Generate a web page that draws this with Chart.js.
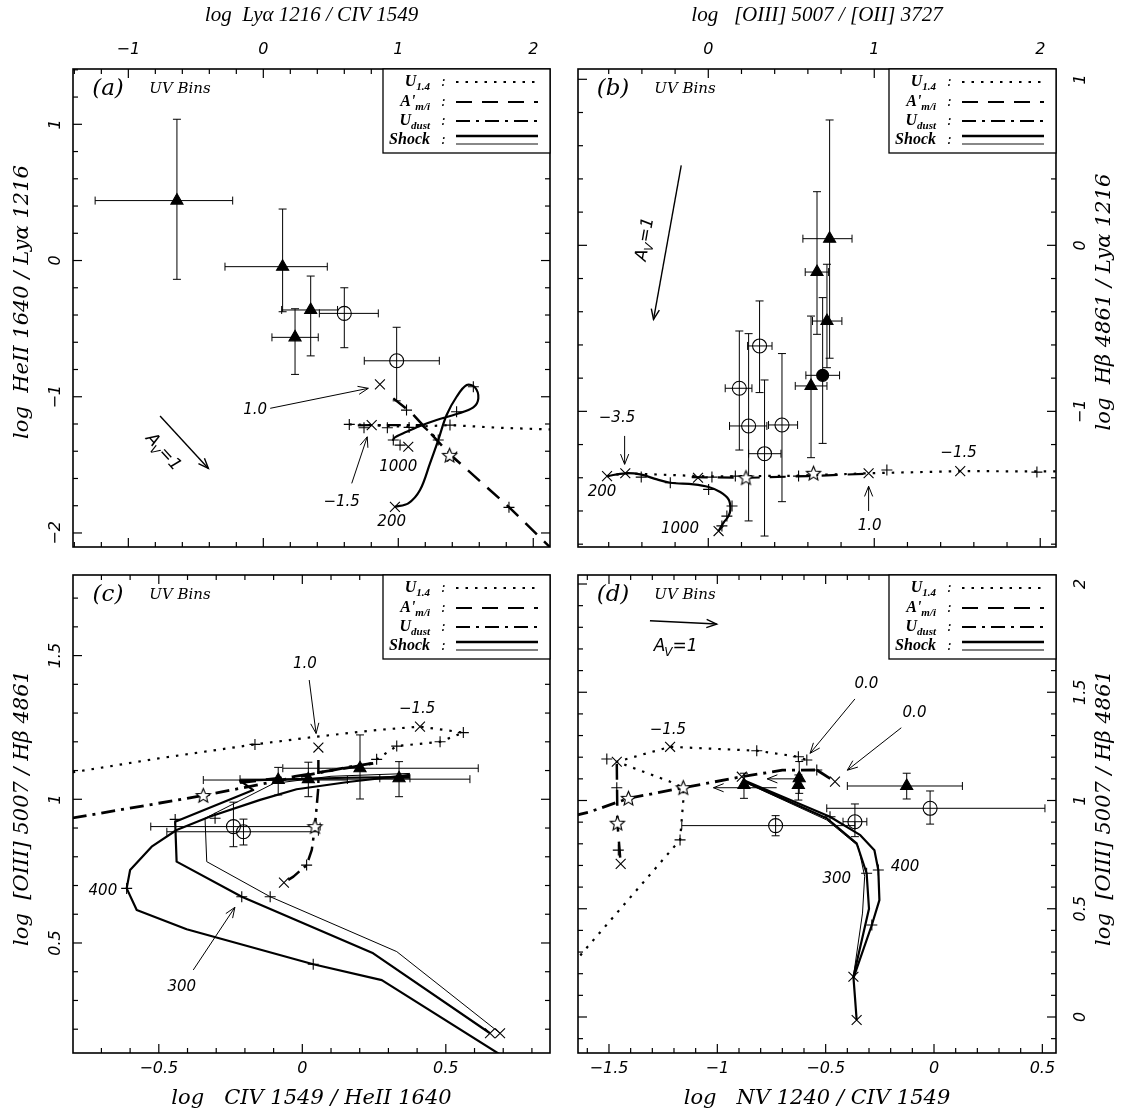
<!DOCTYPE html>
<html><head><meta charset="utf-8">
<script src="https://cdn.jsdelivr.net/npm/chart.js@4.4.0/dist/chart.umd.min.js"></script>
<style>
html,body{margin:0;padding:0;background:#fff;}
#wrap{position:relative;width:1122px;height:1116px;background:#fff;}
canvas{position:absolute;}
</style></head><body>
<div id="wrap">
<canvas id="ca" width="561" height="558" style="left:0;top:0"></canvas>
<canvas id="cb" width="561" height="558" style="left:561px;top:0"></canvas>
<canvas id="cc" width="561" height="558" style="left:0;top:558px"></canvas>
<canvas id="cd" width="561" height="558" style="left:561px;top:558px"></canvas>
</div>
<script>
// ================= DATA =================
// observations: [x, y, xLow, xHigh, yLow, yHigh]
// ---- panel (a): x = log Lya/CIV, y = log HeII/Lya
const aTicksX = [-1, 0, 1, 2];
const aTicksY = [-2, -1, 0, 1];
const aTriangles = [
  [-0.64, 0.44, -1.246, -0.227, -0.138, 1.037],
  [0.143, -0.045, -0.284, 0.474, -0.376, 0.378],
  [0.351, -0.363, 0.136, 0.55, -0.70, -0.114],
  [0.235, -0.564, 0.064, 0.407, -0.836, -0.354]
];
const aCircles = [
  [0.60, -0.388, 0.415, 0.852, -0.64, -0.20],
  [0.988, -0.736, 0.748, 1.304, -1.03, -0.49]
];
const aU14 = [[0.637,-1.203],[0.80,-1.208],[1.08,-1.222],[1.383,-1.208],[1.75,-1.228],[2.13,-1.24]];
const aAmi = [[0.963,-1.012],[1.10,-1.12],[1.38,-1.42],[1.82,-1.81],[2.13,-2.11]];
const aUdust = [[0.70,-1.21],[0.80,-1.208],[1.175,-1.208],[1.285,-1.306]];
const aShock = [[0.975,-1.808],[1.074,-1.783],[1.161,-1.685],[1.235,-1.489],[1.296,-1.318],[1.358,-1.134],
  [1.432,-1.0],[1.507,-0.914],[1.568,-0.931],[1.593,-1.012],[1.556,-1.078],[1.432,-1.127],[1.284,-1.171],
  [1.161,-1.215],[1.062,-1.257],[0.975,-1.298],[0.958,-1.323]];
const aPlus = [[0.637,-1.203],[0.746,-1.228],[0.919,-1.228],[1.08,-1.225],[1.383,-1.208],[1.061,-1.098],
  [1.82,-1.812],[1.556,-0.927],[1.432,-1.11],[1.296,-1.318],[0.963,-1.318],[1.013,-1.355]];
const aCross = [[0.803,-1.208],[0.864,-0.909],[1.074,-1.367],[0.975,-1.808],[1.40,-1.44]];
const aStars = [[1.38,-1.43]];

// ---- panel (b): x = log [OIII]/[OII], y = log Hb/Lya
const bTicksX = [0, 1, 2];
const bTicksY = [-1, 0, 1];
const bTriangles = [
  [0.731, 0.040, 0.57, 0.866, -0.68, 0.755],
  [0.655, -0.161, 0.584, 0.725, -0.536, 0.323],
  [0.715, -0.456, 0.628, 0.805, -0.737, -0.114],
  [0.619, -0.847, 0.524, 0.715, -1.279, -0.426]
];
const bFilled = [[0.689, -0.783, 0.588, 0.791, -1.193, -0.315]];
const bCircles = [
  [0.309, -0.606, 0.237, 0.384, -0.887, -0.335],
  [0.187, -0.861, 0.102, 0.263, -1.233, -0.516],
  [0.243, -1.088, 0.128, 0.353, -1.66, -0.532],
  [0.444, -1.082, 0.363, 0.538, -1.544, -0.652],
  [0.339, -1.255, 0.243, 0.438, -1.751, -0.811]
];
const bU14 = [[-0.61,-1.39],[-0.5,-1.373],[0.0,-1.392],[0.5,-1.388],[0.966,-1.373],[1.518,-1.36],[2.1,-1.362]];
const bAmi = [[-0.10,-1.396],[0.25,-1.40],[0.60,-1.39],[0.97,-1.375]];
const bShock = [[-0.61,-1.39],[-0.5,-1.373],[-0.41,-1.38],[-0.309,-1.41],[-0.229,-1.43],[-0.088,-1.44],
  [0.002,-1.456],[0.072,-1.486],[0.122,-1.53],[0.133,-1.586],[0.122,-1.631],[0.092,-1.67],[0.062,-1.721]];
const bPlus = [[-0.404,-1.396],[0.022,-1.396],[0.163,-1.39],[0.544,-1.39],[1.076,-1.353],[1.98,-1.366],
  [-0.229,-1.43],[0.002,-1.47],[0.143,-1.57],[0.112,-1.631],[0.082,-1.69]];
const bCross = [[-0.61,-1.39],[-0.5,-1.373],[-0.062,-1.40],[0.966,-1.373],[1.518,-1.36],[0.062,-1.721]];
const bStars = [[0.227,-1.40],[0.634,-1.373]];

// ---- panel (c): x = log CIV/HeII, y = log [OIII]/Hb
const cTicksX = [-0.5, 0, 0.5];
const cTicksY = [0.5, 1, 1.5];
const cTriangles = [
  [-0.084, 1.067, -0.345, 0.157, 1.015, 1.111],
  [0.021, 1.07, -0.217, 0.584, 1.009, 1.129],
  [0.201, 1.108, -0.068, 0.613, 1.001, 1.224],
  [0.337, 1.073, 0.27, 0.375, 1.009, 1.131]
];
const cCircles = [
  [-0.24, 0.905, -0.528, 0.062, 0.835, 0.99],
  [-0.205, 0.887, -0.472, 0.056, 0.841, 0.931]
];
const cU14 = [[-0.80,1.094],[-0.496,1.143],[-0.165,1.191],[0.05,1.218],[0.259,1.241],[0.41,1.253],
  [0.561,1.232],[0.48,1.2],[0.329,1.185],[0.259,1.139]];
const cUdust = [[-0.80,0.935],[-0.345,1.013],[-0.101,1.061],[0.166,1.113],[0.242,1.125]];
const cUdust2 = [[0.056,1.137],[0.056,1.044],[0.044,0.905],[0.033,0.824],[0.015,0.771],[-0.031,0.731],[-0.064,0.71]];
const cAmi = [[-0.217,1.058],[-0.031,1.079],[0.178,1.113],[0.247,1.125]];
const cShockOuter = [[0.375,1.085],[0.166,1.061],[-0.02,1.035],[-0.147,0.998],[-0.321,0.94],[-0.438,0.893],
  [-0.525,0.835],[-0.6,0.754],[-0.612,0.69],[-0.577,0.615],[-0.403,0.548],[0.038,0.426],[0.277,0.371],[0.70,0.105]];
const cShockInner = [[0.375,1.078],[0.15,1.075],[-0.217,1.065],[-0.171,1.032],[-0.443,0.922],[-0.438,0.783],
  [-0.211,0.661],[0.247,0.464],[0.654,0.186]];
const cShockThin = [[0.375,1.09],[0.10,1.08],[-0.10,1.055],[-0.339,0.934],[-0.333,0.783],[-0.112,0.661],
  [0.329,0.47],[0.689,0.186]];
const cPlus = [[-0.165,1.191],[0.561,1.232],[0.48,1.2],[0.329,1.185],[0.259,1.139],[0.015,0.771],
  [-0.443,0.93],[-0.304,0.934],[-0.211,0.661],[-0.112,0.661],[0.038,0.426],[-0.612,0.69]];
const cCross = [[0.41,1.253],[0.056,1.18],[-0.064,0.71],[0.654,0.186],[0.689,0.186]];
const cStars = [[-0.345,1.013],[0.044,0.905]];

// ---- panel (d): x = log NV/CIV, y = log [OIII]/Hb
const dTicksX = [-1.5, -1, -0.5, 0, 0.5];
const dTicksY = [0, 0.5, 1, 1.5, 2];
const dTriangles = [
  [-0.126, 1.067, -0.4, 0.131, 1.007, 1.126],
  [-0.622, 1.103, -0.622, -0.622, 1.033, 1.18],
  [-0.626, 1.072, -0.626, -0.626, 1.002, 1.118],
  [-0.877, 1.072, -0.877, -0.877, 1.01, 1.126]
];
const dCircles = [
  [-0.018, 0.964, -0.495, 0.512, 0.891, 1.044],
  [-0.365, 0.902, -0.42, -0.31, 0.833, 0.984],
  [-0.731, 0.884, -1.164, -0.365, 0.837, 0.93]
];
const dU14 = [[-1.66,0.25],[-1.618,0.302],[-1.172,0.818],[-1.157,1.0],[-1.157,1.059],[-1.218,1.087],
  [-1.464,1.179],[-1.218,1.248],[-0.818,1.23],[-0.626,1.202],[-0.587,1.187]];
const dUdust = [[-1.66,0.93],[-1.587,0.948],[-1.41,1.01],[-1.157,1.059],[-0.887,1.11],[-0.70,1.14],[-0.541,1.141]];
const dAmi = [[-0.541,1.141],[-0.457,1.087]];
const dAmi2 = [[-1.464,1.17],[-1.461,0.895],[-1.446,0.707]];
const dShockA = [[-0.872,1.087],[-0.495,0.918],[-0.357,0.802],[-0.311,0.664],[-0.30,0.50],[-0.372,0.186],
  [-0.365,0.094],[-0.357,-0.014]];
const dShockB = [[-0.87,1.09],[-0.48,0.925],[-0.34,0.84],[-0.275,0.77],[-0.257,0.679],[-0.252,0.54],
  [-0.287,0.425],[-0.372,0.18]];
const dShockThin = [[-0.865,1.08],[-0.495,0.91],[-0.35,0.79],[-0.32,0.65],[-0.33,0.48],[-0.372,0.186]];
const dPlus = [[-1.51,1.192],[-0.818,1.23],[-0.587,1.187],[-0.626,1.202],[-1.172,0.818],[-0.541,1.141],
  [-1.464,1.059],[-1.457,0.771],[-0.311,0.664],[-0.257,0.679],[-0.287,0.425],[-0.48,0.925]];
const dCross = [[-1.464,1.179],[-1.218,1.248],[-0.887,1.11],[-0.457,1.087],[-1.446,0.707],[-0.372,0.186],[-0.357,-0.014]];
const dStars = [[-1.41,1.01],[-1.157,1.059],[-1.461,0.895]];

// ---- annotations (data coordinates)
const aNotes = [
  {t:'arrow', p:[-0.765,-1.142,-0.407,-1.526], w:1.4},
  {t:'av', p:[-0.74,-1.41], rot:48},
  {t:'text', s:'1.0', p:[-0.06,-1.098]},
  {t:'arrow', p:[0.051,-1.085,0.778,-0.938], w:1},
  {t:'text', s:'\u22121.5', p:[0.58,-1.771]},
  {t:'arrow', p:[0.655,-1.636,0.770,-1.294], w:1},
  {t:'text', s:'1000', p:[1.0,-1.514]},
  {t:'text', s:'200', p:[0.951,-1.918]}
];
const bNotes = [
  {t:'arrow', p:[-0.163,0.482,-0.33,-0.446], w:1.4},
  {t:'av', p:[-0.38,0.04], rot:-80},
  {t:'text', s:'\u22123.5', p:[-0.55,-1.042]},
  {t:'arrow', p:[-0.504,-1.148,-0.504,-1.319], w:1},
  {t:'text', s:'200', p:[-0.64,-1.486]},
  {t:'text', s:'1000', p:[-0.17,-1.711]},
  {t:'text', s:'1.0', p:[0.972,-1.691]},
  {t:'arrow', p:[0.966,-1.60,0.966,-1.451], w:1},
  {t:'text', s:'\u22121.5', p:[1.508,-1.249]}
];
const cNotes = [
  {t:'text', s:'1.0', p:[0.009,1.471]},
  {t:'arrow', p:[0.024,1.415,0.048,1.229], w:1},
  {t:'text', s:'\u22121.5', p:[0.40,1.313]},
  {t:'text', s:'400', p:[-0.645,0.679], align:'right'},
  {t:'text', s:'300', p:[-0.42,0.348]},
  {t:'arrow', p:[-0.38,0.406,-0.235,0.624], w:1}
];
const dNotes = [
  {t:'arrow', p:[-1.311,1.83,-1.003,1.815], w:1.4},
  {t:'av', p:[-1.19,1.71], rot:0},
  {t:'text', s:'\u22121.5', p:[-1.228,1.327]},
  {t:'text', s:'0.0', p:[-0.312,1.539]},
  {t:'arrow', p:[-0.365,1.469,-0.572,1.218], w:1},
  {t:'text', s:'0.0', p:[-0.09,1.403]},
  {t:'arrow', p:[-0.151,1.336,-0.40,1.14], w:1},
  {t:'text', s:'300', p:[-0.449,0.639]},
  {t:'text', s:'400', p:[-0.134,0.691]},
  {t:'arrow', p:[-0.64,1.10,-0.77,1.10], w:1},
  {t:'arrow', p:[-0.726,1.059,-1.018,1.059], w:1}
];

// ================= DRAWING =================
const MINUS = '\u2212';
function fmt(v){ return (v < 0 ? MINUS : '') + String(Math.abs(v)); }
function pts(arr){ return arr.map(p => ({x:p[0], y:p[1]})); }
function makeStar(r){
  const s = Math.ceil(2*r + 4), c = document.createElement('canvas');
  c.width = s; c.height = s;
  const g = c.getContext('2d');
  g.translate(s/2, s/2 + 0.5);
  g.beginPath();
  for (let i = 0; i < 10; i++) {
    const a = -Math.PI/2 + i*Math.PI/5, rr = (i % 2) ? r*0.45 : r;
    g.lineTo(rr*Math.cos(a), rr*Math.sin(a));
  }
  g.closePath(); g.fillStyle = '#fff'; g.fill();
  g.lineWidth = 1.1; g.strokeStyle = '#000'; g.stroke();
  return c;
}
const STAR = makeStar(7.5);
const DOT = [2.5, 7], DASH = [16, 10], DASHDOT = [14, 6, 3, 6];

function lineDS(arr, w, dash, tension){
  return {data:pts(arr), showLine:true, borderColor:'#000', borderWidth:w, borderDash:dash,
    pointRadius:0, pointHoverRadius:0, tension:tension||0, fill:false,
    borderCapStyle:'butt', borderJoinStyle:'round'};
}
function markDS(arr, style, r, fill){
  return {data:pts(arr), showLine:false, pointStyle:style, pointRadius:r, pointHoverRadius:r,
    borderColor:'#000', pointBorderColor:'#000', backgroundColor: fill ? '#000' : 'rgba(0,0,0,0)',
    pointBackgroundColor: fill ? '#000' : 'rgba(0,0,0,0)', borderWidth:1.1, pointBorderWidth:1.1};
}

function line(ctx, x1, y1, x2, y2){ ctx.beginPath(); ctx.moveTo(x1, y1); ctx.lineTo(x2, y2); ctx.stroke(); }

function drawAV(ctx, x, y, rot){
  ctx.save(); ctx.translate(x, y); ctx.rotate(rot*Math.PI/180);
  const big = 'italic 17px "DejaVu Sans"', sm = 'italic 12px "DejaVu Sans"';
  ctx.font = big; const wA = ctx.measureText('A').width, wE = ctx.measureText('=1').width;
  ctx.font = sm; const wV = ctx.measureText('V').width;
  let x0 = -(wA + wV + wE)/2;
  ctx.textBaseline = 'middle'; ctx.textAlign = 'left';
  ctx.font = big; ctx.fillText('A', x0, 0);
  ctx.font = sm; ctx.fillText('V', x0 + wA - 1, 6);
  ctx.font = big; ctx.fillText('=1', x0 + wA + wV - 1, 0);
  ctx.restore();
}

function drawNotes(ctx, xs, ys, notes){
  ctx.save(); ctx.fillStyle = '#000'; ctx.strokeStyle = '#000';
  notes.forEach(n => {
    if (n.t === 'text') {
      ctx.font = 'italic 15px "DejaVu Sans"';
      ctx.textAlign = n.align || 'center'; ctx.textBaseline = 'middle';
      ctx.fillText(n.s, xs.getPixelForValue(n.p[0]), ys.getPixelForValue(n.p[1]));
    } else if (n.t === 'av') {
      drawAV(ctx, xs.getPixelForValue(n.p[0]), ys.getPixelForValue(n.p[1]), n.rot);
    } else if (n.t === 'arrow') {
      const x1 = xs.getPixelForValue(n.p[0]), y1 = ys.getPixelForValue(n.p[1]);
      const x2 = xs.getPixelForValue(n.p[2]), y2 = ys.getPixelForValue(n.p[3]);
      ctx.lineWidth = n.w; ctx.setLineDash([]);
      line(ctx, x1, y1, x2, y2);
      const a = Math.atan2(y2 - y1, x2 - x1), L = 11, h = 0.38;
      ctx.beginPath();
      ctx.moveTo(x2 - L*Math.cos(a - h), y2 - L*Math.sin(a - h));
      ctx.lineTo(x2, y2);
      ctx.lineTo(x2 - L*Math.cos(a + h), y2 - L*Math.sin(a + h));
      ctx.stroke();
    }
  });
  ctx.restore();
}

function drawErr(ctx, xs, ys, obs){
  ctx.save(); ctx.strokeStyle = '#000'; ctx.lineWidth = 1; ctx.setLineDash([]);
  const cap = 4;
  obs.forEach(o => {
    const x = xs.getPixelForValue(o[0]), y = ys.getPixelForValue(o[1]);
    const xl = xs.getPixelForValue(o[2]), xh = xs.getPixelForValue(o[3]);
    const yl = ys.getPixelForValue(o[4]), yh = ys.getPixelForValue(o[5]);
    if (Math.abs(xh - xl) > 1) { line(ctx, xl, y, xh, y); line(ctx, xl, y - cap, xl, y + cap); line(ctx, xh, y - cap, xh, y + cap); }
    if (Math.abs(yh - yl) > 1) { line(ctx, x, yl, x, yh); line(ctx, x - cap, yl, x + cap, yl); line(ctx, x - cap, yh, x + cap, yh); }
  });
  ctx.restore();
}

function drawLegend(ctx, area, shock2){
  const L = area.right - 167, T = area.top, W = 167, H = 84;
  ctx.save();
  ctx.fillStyle = '#fff'; ctx.fillRect(L, T, W, H);
  ctx.strokeStyle = '#000'; ctx.lineWidth = 1.3; ctx.setLineDash([]);
  ctx.strokeRect(L, T, W, H);
  const rows = [[T+13,'U','1.4',DOT],[T+33,"A'",'m/i',DASH],[T+52,'U','dust',DASHDOT],[T+71,'Shock','',null]];
  const big = 'bold italic 16px "Liberation Serif"', sm = 'bold italic 11px "Liberation Serif"';
  rows.forEach(r => {
    const [y, base, sub, dash] = r;
    ctx.fillStyle = '#000'; ctx.textBaseline = 'middle'; ctx.textAlign = 'left';
    ctx.font = big; const wb = ctx.measureText(base).width;
    ctx.font = sm; const ws = sub ? ctx.measureText(sub).width : 0;
    const x0 = L + 47 - wb - ws;
    ctx.font = big; ctx.fillText(base, x0, y);
    if (sub) { ctx.font = sm; ctx.fillText(sub, x0 + wb, y + 5); }
    ctx.font = 'italic 14px "DejaVu Serif"'; ctx.fillText(':', L + 58, y);
    ctx.strokeStyle = '#000';
    if (dash) {
      ctx.lineWidth = 2; ctx.setLineDash(dash); line(ctx, L + 73, y, L + 155, y);
    } else {
      ctx.setLineDash([]);
      ctx.lineWidth = 2.5; line(ctx, L + 73, y - 4, L + 155, y - 4);
      ctx.strokeStyle = shock2.c; ctx.lineWidth = shock2.w; line(ctx, L + 73, y + 4, L + 155, y + 4);
    }
  });
  ctx.restore();
}

function makePanel(P){
  const datasets = [];
  P.obs.forEach(o => { datasets.push(markDS(o.arr.map(r => [r[0], r[1]]), o.style, o.r, o.fill)); });
  datasets.push(markDS(P.stars, STAR, 7));
  datasets.push(markDS(P.plus, 'cross', 5.5));
  datasets.push(markDS(P.cross, 'crossRot', 7));
  P.lines.forEach(l => datasets.push(lineDS(l.arr, l.w, l.dash, l.tension)));

  const deco = {
    id: 'deco' + P.id,
    beforeDatasetsDraw(chart){
      const xs = chart.scales.x, ys = chart.scales.y, ctx = chart.ctx;
      P.obs.forEach(o => drawErr(ctx, xs, ys, o.arr));
    },
    afterDraw(chart){
      const ctx = chart.ctx, a = chart.chartArea, xs = chart.scales.x, ys = chart.scales.y;
      ctx.save();
      ctx.strokeStyle = '#000'; ctx.setLineDash([]); ctx.lineWidth = 1.2;
      const tk = (scale, step, major, isX) => {
        const k0 = Math.ceil(scale.min/step - 1e-6), k1 = Math.floor(scale.max/step + 1e-6);
        for (let k = k0; k <= k1; k++) {
          const v = k*step, isMaj = Math.abs(v/major - Math.round(v/major)) < 1e-6;
          const len = isMaj ? 9 : 5, p = scale.getPixelForValue(v);
          if (isX) { line(ctx, p, a.bottom, p, a.bottom - len); line(ctx, p, a.top, p, a.top + len); }
          else { line(ctx, a.left, p, a.left + len, p); line(ctx, a.right, p, a.right - len, p); }
        }
      };
      tk(xs, P.xMinor, P.xMajor, true);
      tk(ys, P.yMinor, P.yMajor, false);
      ctx.lineWidth = 1.6;
      ctx.strokeRect(a.left, a.top, a.right - a.left, a.bottom - a.top);
      ctx.fillStyle = '#000'; ctx.textAlign = 'center'; ctx.textBaseline = 'middle';
      const lx = P.yPos === 'left' ? a.left - 17 : a.right + 25;
      const tx = P.yPos === 'left' ? a.left - 50 : a.right + 49;
      P.yTicks.forEach(v => {
        ctx.save(); ctx.translate(lx, ys.getPixelForValue(v)); ctx.rotate(-Math.PI/2);
        ctx.font = 'italic 16px "DejaVu Sans"'; ctx.fillText(fmt(v), 0, 0); ctx.restore();
      });
      ctx.save(); ctx.translate(tx, (a.top + a.bottom)/2 - 6); ctx.rotate(-Math.PI/2);
      ctx.font = 'italic 21px "DejaVu Serif"'; ctx.fillText(P.yTitle, 0, 0); ctx.restore();
      ctx.textAlign = 'center';
      ctx.font = 'italic 23px "DejaVu Serif"'; ctx.fillText(P.letter, a.left + 35, a.top + 20);
      ctx.font = 'italic 15px "DejaVu Serif"'; ctx.fillText('UV Bins', a.left + 107, a.top + 20);
      ctx.restore();
      drawNotes(ctx, xs, ys, P.notes);
      drawLegend(ctx, a, P.shock2);
    }
  };

  return new Chart(document.getElementById(P.id), {
    type: 'scatter',
    data: {datasets},
    options: {
      responsive:false, animation:false, events:[],
      layout:{padding:P.pad, autoPadding:false},
      plugins:{legend:{display:false}, tooltip:{enabled:false}},
      scales:{
        x:{type:'linear', position:P.xPos, min:P.xMin, max:P.xMax,
          afterBuildTicks: s => { s.ticks = P.xTicks.map(v => ({value:v})); },
          ticks:{font:{family:'DejaVu Sans', size:16, style:'italic'}, color:'#000',
            padding: P.xPos === 'top' ? 10 : 6, maxRotation:0, minRotation:0, autoSkip:false,
            callback: v => fmt(v)},
          grid:{display:false, drawTicks:false}, border:{display:false},
          title:{display:true, text:P.xTitle, color:'#000', align:P.xTitleAlign || 'center',
            font:{family:P.xPos === 'top' ? 'Liberation Serif' : 'DejaVu Serif', size:P.xPos === 'top' ? 21 : 21, style:'italic'},
            padding: P.xPos === 'top' ? {top:3, bottom:0} : {top:0, bottom:5}},
          afterFit: s => { s.height = P.xAxisH; }
        },
        y:{type:'linear', position:P.yPos, min:P.yMin, max:P.yMax,
          afterBuildTicks: s => { s.ticks = P.yTicks.map(v => ({value:v})); },
          ticks:{display:false}, grid:{display:false, drawTicks:false}, border:{display:false},
          title:{display:false},
          afterFit: s => { s.width = P.yAxisW; }
        }
      }
    },
    plugins:[deco]
  });
}

const TRI = 7, CIR = 7;
makePanel({id:'ca', letter:'(a)', xPos:'top', yPos:'left',
  xMin:-1.41, xMax:2.124, yMin:-2.103, yMax:1.406, xTicks:aTicksX, yTicks:aTicksY,
  xMinor:0.2, xMajor:1, yMinor:0.2, yMajor:1,
  xTitle:'log  Ly\u03b1 1216 / CIV 1549', yTitle:'log  HeII 1640 / Ly\u03b1 1216',
  pad:{left:0, right:11, top:0, bottom:11}, xAxisH:69, yAxisW:73, shock2:{c:'#888', w:2},
  obs:[{arr:aTriangles, style:'triangle', r:TRI, fill:true}, {arr:aCircles, style:'circle', r:CIR, fill:false}],
  stars:aStars, plus:aPlus, cross:aCross,
  lines:[{arr:aShock, w:2.2, dash:[], tension:0.35}, {arr:aU14, w:2.2, dash:DOT},
         {arr:aAmi, w:2.5, dash:DASH}, {arr:aUdust, w:2.2, dash:DASHDOT}],
  notes:aNotes});

makePanel({id:'cb', letter:'(b)', xPos:'top', yPos:'right',
  xMin:-0.785, xMax:2.095, yMin:-1.817, yMax:1.062, xTicks:bTicksX, yTicks:bTicksY,
  xMinor:0.2, xMajor:1, yMinor:0.2, yMajor:1,
  xTitle:'log   [OIII] 5007 / [OII] 3727', yTitle:'log  H\u03b2 4861 / Ly\u03b1 1216',
  pad:{left:17, right:0, top:0, bottom:11}, xAxisH:69, yAxisW:66, shock2:{c:'#888', w:2},
  obs:[{arr:bTriangles, style:'triangle', r:TRI, fill:true}, {arr:bFilled, style:'circle', r:6, fill:true},
       {arr:bCircles, style:'circle', r:CIR, fill:false}],
  stars:bStars, plus:bPlus, cross:bCross,
  lines:[{arr:bShock, w:2.2, dash:[], tension:0.35}, {arr:bU14, w:2.2, dash:DOT},
         {arr:bAmi, w:2.2, dash:DASH}],
  notes:bNotes});

makePanel({id:'cc', letter:'(c)', xPos:'bottom', yPos:'left',
  xMin:-0.799, xMax:0.863, yMin:0.1172, yMax:1.7804, xTicks:cTicksX, yTicks:cTicksY,
  xMinor:0.1, xMajor:0.5, yMinor:0.1, yMajor:0.5,
  xTitle:'log   CIV 1549 / HeII 1640', yTitle:'log  [OIII] 5007 / H\u03b2 4861',
  pad:{left:0, right:11, top:17, bottom:0}, xAxisH:63, yAxisW:73, shock2:{c:'#000', w:1},
  obs:[{arr:cTriangles, style:'triangle', r:TRI, fill:true}, {arr:cCircles, style:'circle', r:CIR, fill:false}],
  stars:cStars, plus:cPlus, cross:cCross,
  lines:[{arr:cShockOuter, w:2.2, dash:[]}, {arr:cShockInner, w:2.2, dash:[]}, {arr:cShockThin, w:1, dash:[]},
         {arr:cU14, w:2.2, dash:DOT}, {arr:cUdust, w:2.8, dash:DASHDOT}, {arr:cUdust2, w:2.5, dash:DASHDOT},
         {arr:cAmi, w:2.8, dash:DASH}],
  notes:cNotes});

makePanel({id:'cd', letter:'(d)', xPos:'bottom', yPos:'right',
  xMin:-1.643, xMax:0.563, yMin:-0.1663, yMax:2.0416, xTicks:dTicksX, yTicks:dTicksY,
  xMinor:0.1, xMajor:0.5, yMinor:0.1, yMajor:0.5,
  xTitle:'log   NV 1240 / CIV 1549', yTitle:'log  [OIII] 5007 / H\u03b2 4861',
  pad:{left:17, right:0, top:17, bottom:0}, xAxisH:63, yAxisW:66, shock2:{c:'#000', w:1},
  obs:[{arr:dTriangles, style:'triangle', r:TRI, fill:true}, {arr:dCircles, style:'circle', r:CIR, fill:false}],
  stars:dStars, plus:dPlus, cross:dCross,
  lines:[{arr:dShockA, w:2.2, dash:[]}, {arr:dShockB, w:2.2, dash:[]}, {arr:dShockThin, w:1, dash:[]},
         {arr:dU14, w:2.2, dash:DOT}, {arr:dUdust, w:2.8, dash:DASHDOT}, {arr:dAmi, w:2.8, dash:DASH},
         {arr:dAmi2, w:2.5, dash:DASH}],
  notes:dNotes});
</script>
</body></html>
